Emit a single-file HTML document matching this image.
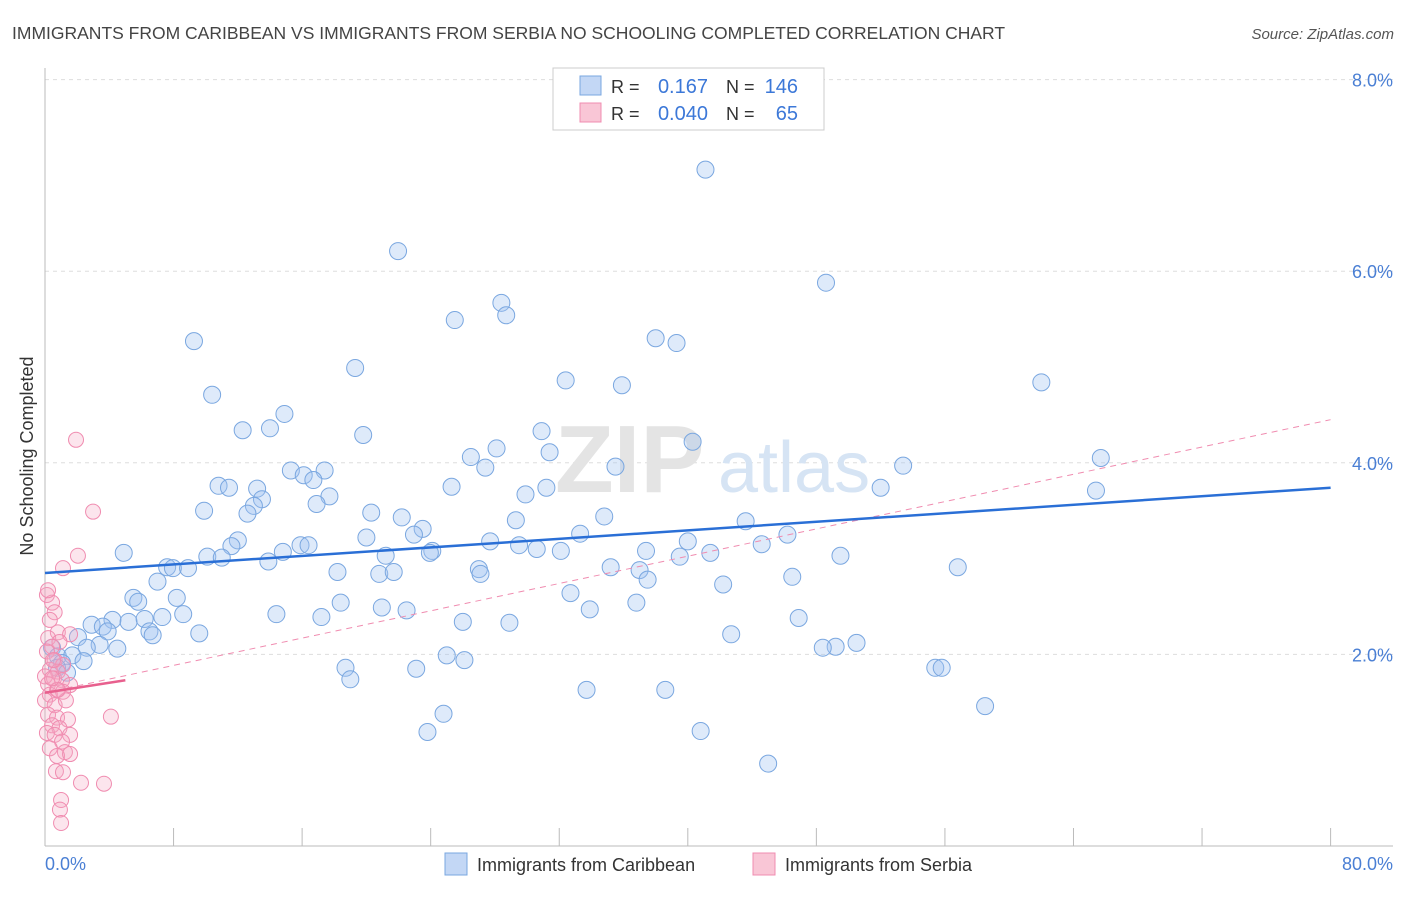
<!DOCTYPE html>
<html><head><meta charset="utf-8"><style>
body{margin:0;background:#fff;font-family:"Liberation Sans",sans-serif;}
svg text{font-family:"Liberation Sans",sans-serif;}
</style></head><body>
<svg width="1406" height="892" viewBox="0 0 1406 892" xmlns="http://www.w3.org/2000/svg">
<text x="12" y="39" font-size="17.5" fill="#444">IMMIGRANTS FROM CARIBBEAN VS IMMIGRANTS FROM SERBIA NO SCHOOLING COMPLETED CORRELATION CHART</text>
<text x="1394" y="39" font-size="15" fill="#555" font-style="italic" text-anchor="end">Source: ZipAtlas.com</text>
<g id="grid"></g>
<g id="axes"></g>
<text x="555" y="492" font-size="96" fill="#e4e4e4" font-family="Liberation Serif" font-weight="bold">ZIP</text>
<text x="718" y="492" font-size="72" fill="#d6e4f4">atlas</text>
<g id="pts"></g>
<g id="lines"></g>
<text transform="translate(33,456) rotate(-90)" font-size="18" fill="#333" text-anchor="middle">No Schooling Completed</text>
<text x="45" y="870" font-size="18" fill="#4a7fd4">0.0%</text>
<text x="1393" y="870" font-size="18" fill="#4a7fd4" text-anchor="end">80.0%</text>
<g>
<rect x="553" y="68" width="271" height="62" fill="#fff" stroke="#ccc"/>
<rect x="580" y="76" width="21" height="19" fill="#c3d7f5" stroke="#7aa7e0"/>
<rect x="580" y="103" width="21" height="19" fill="#f9c6d6" stroke="#f08cb0"/>
<text x="611" y="93" font-size="18" fill="#333">R =</text><text x="708" y="93" font-size="20" fill="#3c78d8" text-anchor="end">0.167</text>
<text x="726" y="93" font-size="18" fill="#333">N =</text><text x="798" y="93" font-size="20" fill="#3c78d8" text-anchor="end">146</text>
<text x="611" y="120" font-size="18" fill="#333">R =</text><text x="708" y="120" font-size="20" fill="#3c78d8" text-anchor="end">0.040</text>
<text x="726" y="120" font-size="18" fill="#333">N =</text><text x="798" y="120" font-size="20" fill="#3c78d8" text-anchor="end">65</text>
</g>
<g>
<rect x="445" y="853" width="22" height="22" fill="#c3d7f5" stroke="#7aa7e0"/>
<text x="477" y="871" font-size="18" fill="#333">Immigrants from Caribbean</text>
<rect x="753" y="853" width="22" height="22" fill="#f9c6d6" stroke="#f08cb0"/>
<text x="785" y="871" font-size="18" fill="#333">Immigrants from Serbia</text>
</g>
</svg>
<script>
const yTicks=[2,4,6,8];
const yTickLabels=["2.0%","4.0%","6.0%","8.0%"];
const xTicks=[0,8,16,24,32,40,48,56,64,72,80];
const blueX=[41.1,21.97,48.6,28.4,28.7,25.5,9.27,38.0,39.3,19.3,32.4,35.9,62.0,10.4,14.9,12.3,14.0,19.8,30.9,28.1,40.3,31.4,26.5,65.7,27.4,35.5,53.4,15.3,17.4,16.1,16.7,10.8,11.45,25.3,31.2,52.0,65.4,13.2,17.7,29.9,13.5,13.0,16.9,9.9,12.6,20.3,22.2,29.3,34.8,43.6,23.5,22.96,33.3,46.2,12.0,11.6,20.0,27.7,40.0,15.9,16.4,29.5,44.6,30.6,32.1,37.4,24.1,23.95,4.9,41.4,14.8,21.2,10.1,11.0,49.5,39.5,13.9,7.6,7.96,8.9,35.2,56.8,27.0,27.1,18.2,20.8,21.7,37.0,46.5,37.5,7.0,42.2,32.7,8.2,5.5,5.8,18.4,36.8,20.96,33.9,22.5,14.4,8.6,17.2,7.3,46.9,4.2,5.2,26.0,28.9,6.2,2.9,3.6,3.9,6.5,6.7,9.6,42.7,2.05,50.5,49.2,48.4,3.4,2.6,4.5,0.44,0.8,1.7,25.0,26.1,2.4,1.06,0.75,18.7,23.1,55.4,55.8,1.37,19.0,33.7,38.6,58.5,24.8,23.8,40.8,45.0];
const blueY=[7.06,6.21,5.88,5.67,5.54,5.49,5.27,5.30,5.25,4.99,4.86,4.81,4.84,4.71,4.51,4.34,4.36,4.29,4.33,4.15,4.22,4.11,4.06,4.05,3.95,3.96,3.97,3.92,3.92,3.87,3.82,3.76,3.74,3.75,3.74,3.74,3.71,3.73,3.65,3.67,3.62,3.55,3.57,3.50,3.47,3.48,3.43,3.40,3.44,3.39,3.31,3.25,3.26,3.25,3.19,3.13,3.22,3.18,3.18,3.14,3.14,3.14,3.15,3.10,3.08,3.08,3.08,3.06,3.06,3.06,3.07,3.03,3.02,3.01,3.03,3.02,2.97,2.91,2.90,2.90,2.91,2.91,2.89,2.84,2.86,2.84,2.86,2.88,2.81,2.78,2.76,2.73,2.64,2.59,2.59,2.55,2.54,2.54,2.49,2.47,2.46,2.42,2.42,2.39,2.39,2.38,2.36,2.34,2.34,2.33,2.37,2.31,2.29,2.24,2.24,2.20,2.22,2.21,2.18,2.12,2.08,2.07,2.10,2.07,2.06,2.07,1.98,1.99,1.99,1.94,1.93,1.91,1.86,1.86,1.85,1.86,1.86,1.81,1.74,1.63,1.63,1.46,1.38,1.19,1.20,0.86];
const pinkX=[1.93,2.99,2.05,1.12,0.12,0.44,0.6,0.3,0.8,1.56,0.2,0.9,0.44,0.12,0.6,1.12,0.3,0.8,0,0.56,1.06,0.19,1.56,0.75,1.12,0.3,0,0.6,0.19,0.75,1.43,4.1,0.44,0.9,0.12,0.6,1.56,1.06,0.3,1.24,0.75,1.56,0.68,1.12,2.24,3.67,1.0,0.93,1.0,0.5,1.3,0.19,0.8,0.44];
const pinkY=[4.24,3.49,3.03,2.90,2.62,2.54,2.44,2.36,2.23,2.21,2.17,2.13,2.08,2.03,1.94,1.89,1.84,1.82,1.77,1.75,1.73,1.69,1.68,1.63,1.61,1.58,1.52,1.47,1.37,1.34,1.32,1.35,1.26,1.23,1.18,1.16,1.16,1.09,1.02,0.98,0.94,0.96,0.78,0.77,0.66,0.65,0.48,0.38,0.24,1.94,1.52,2.67,1.63,1.75];
const blueTrend=[2.85,3.74];
const pinkSolid=[1.6,1.73];
const pinkDash=[1.6,4.45];

const NS="http://www.w3.org/2000/svg";
const X=v=>45+v*16.07, Y=v=>846-v*95.8;
function mk(t,a,p){const e=document.createElementNS(NS,t);for(const k in a)e.setAttribute(k,a[k]);p.appendChild(e);return e;}
const grid=document.getElementById('grid'),axes=document.getElementById('axes');
yTicks.forEach((t,i)=>{
 const l=mk('line',{x1:45,x2:1393,y1:Y(t),y2:Y(t),stroke:'#ddd','stroke-dasharray':'4,4'},grid);
 
 
 const tx=mk('text',{x:1393,y:Y(t)+7,'font-size':18,fill:'#4a7fd4','text-anchor':'end'},grid);
 tx.textContent=yTickLabels[i];
 
 
});
mk('line',{x1:45,x2:1393,y1:846,y2:846,stroke:'#bbb'},axes);
mk('line',{x1:45,x2:45,y1:68,y2:846,stroke:'#bbb'},axes);
xTicks.forEach(t=>{
 const l=mk('line',{x1:X(t),x2:X(t),y1:828,y2:846,stroke:'#bbb'},axes);
 
 
});
const pts=document.getElementById('pts');
blueX.forEach((v,i)=>{
 const c=mk('circle',{cx:X(v),cy:Y(blueY[i]),r:8.5,fill:'rgba(160,195,240,0.35)',stroke:'#7aa7e0','stroke-width':1},pts);
 
 
});
pinkX.forEach((v,i)=>{
 const c=mk('circle',{cx:X(v),cy:Y(pinkY[i]),r:7.5,fill:'rgba(245,170,195,0.3)',stroke:'#f08cb0','stroke-width':1},pts);
 
 
});
const lines=document.getElementById('lines');
const d=mk('line',{x1:X(0),y1:Y(pinkDash[0]),x2:X(80),y2:Y(pinkDash[1]),stroke:'#f08cb0','stroke-width':1,'stroke-dasharray':'6,5'},lines);


const b=mk('line',{x1:X(0),y1:Y(blueTrend[0]),x2:X(80),y2:Y(blueTrend[1]),stroke:'#2a6fd6','stroke-width':2.5},lines);


const p=mk('line',{x1:X(0),y1:Y(pinkSolid[0]),x2:X(5),y2:Y(pinkSolid[1]),stroke:'#e8608e','stroke-width':2.5},lines);


</script>
</body></html>
